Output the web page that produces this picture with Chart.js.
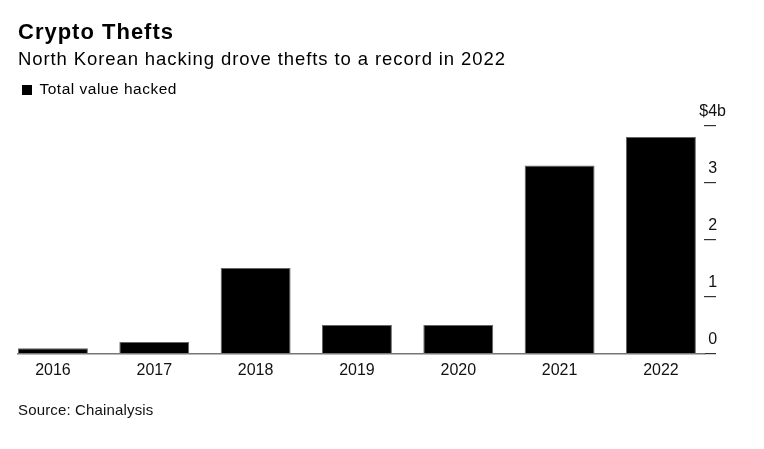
<!DOCTYPE html>
<html>
<head>
<meta charset="utf-8">
<script src="https://cdn.jsdelivr.net/npm/chart.js@4"></script>
<style>
  html, body { margin: 0; padding: 0; background: #fff; }
  body { width: 764px; height: 449px; position: relative; overflow: hidden; font-family: "Liberation Sans", Arial, sans-serif; color: #000; }
  .t { position: absolute; left: 18px; line-height: 1; white-space: nowrap; }
  #title { top: 20.5px; font-size: 22px; font-weight: bold; letter-spacing: 1px; }
  #subtitle { top: 50px; font-size: 18.5px; letter-spacing: 0.9px; }
  #legend { top: 81px; left: 21.5px; font-size: 15.5px; letter-spacing: 0.5px; }
  #legend span.box { display: inline-block; width: 10px; height: 10px; background: #000; margin-right: 8px; vertical-align: -0.5px; }
  #source { top: 401.5px; font-size: 15px; color: #111; letter-spacing: 0.15px; }
  #wrap { position: absolute; left: 0; top: 0; width: 764px; height: 449px; }
</style>
</head>
<body>
<div id="wrap"><canvas id="c" width="764" height="449"></canvas></div>
<div class="t" id="title">Crypto Thefts</div>
<div class="t" id="subtitle">North Korean hacking drove thefts to a record in 2022</div>
<div class="t" id="legend"><span class="box"></span>Total value hacked</div>
<div class="t" id="source">Source: Chainalysis</div>
<script>
const categories = ['2016', '2017', '2018', '2019', '2020', '2021', '2022'];
const totalValueHacked = [0.09, 0.2, 1.5, 0.5, 0.5, 3.3, 3.8];
const yTickValues = [0, 1, 2, 3, 4];
const yTickLabels = ['0', '1', '2', '3', '$4b'];

Chart.defaults.font.family = '"Liberation Sans", Arial, sans-serif';
Chart.defaults.color = '#000';

new Chart(document.getElementById('c'), {
  type: 'bar',
  data: {
    datasets: [{
      label: 'Total value hacked',
      data: totalValueHacked.map((v, i) => ({ x: i, y: v })),
      backgroundColor: '#000',
      borderColor: '#666',
      borderWidth: 1,
      borderSkipped: 'bottom',
      barPercentage: 0.69,
      categoryPercentage: 1.0
    }]
  },
  options: {
    responsive: false,
    animation: false,
    devicePixelRatio: 1,
    layout: { padding: { top: 125.5, left: 18, right: 0, bottom: 65.5 } },
    plugins: { legend: { display: false }, tooltip: { enabled: false }, title: { display: false } },
    scales: {
      x: {
        type: 'linear',
        offset: false,
        min: -0.345,
        max: 6.425,
        afterBuildTicks: (axis) => { axis.ticks = categories.map((c, i) => ({ value: i })); },
        afterFit: (axis) => { axis.height = 30; },
        ticks: {
          callback: (v) => categories[v],
          font: { size: 16 },
          color: '#111',
          padding: 7,
          maxRotation: 0,
          autoSkip: false
        },
        grid: { display: false, drawTicks: false },
        border: { display: true, color: '#777', width: 1.5 }
      },
      y: {
        position: 'right',
        min: 0,
        max: 4,
        afterBuildTicks: (axis) => { axis.ticks = yTickValues.map(v => ({ value: v })); },
        afterFit: (axis) => { axis.width = 60; },
        ticks: {
          callback: (v) => yTickLabels[yTickValues.indexOf(v)],
          font: { size: 16 },
          color: '#111',
          mirror: true,
          crossAlign: 'center',
          padding: 22,
          labelOffset: -14
        },
        grid: { drawOnChartArea: false, drawTicks: true, tickLength: 12, color: '#333', lineWidth: 1.2 },
        border: { display: false }
      }
    }
  }
});
</script>
</body>
</html>
